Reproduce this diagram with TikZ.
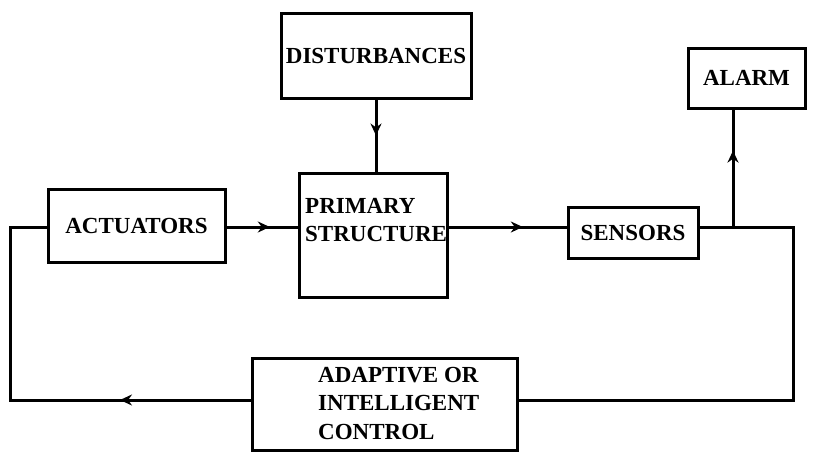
\documentclass[tikz,border=0pt]{standalone}
\usepackage{fontspec}
\setmainfont{Liberation Serif}
\usetikzlibrary{arrows.meta,decorations.markings}

\tikzset{
  blk/.style={draw, line width=3pt, inner sep=0pt,
    font=\fontsize{23}{28}\selectfont\bfseries},
  lbl/.style={inner sep=0pt, align=left,
    font=\fontsize{23}{28.5}\selectfont\bfseries},
  wire/.style={line width=3pt},
  midarrow/.style={postaction={decorate},
    decoration={markings,
      mark=at position #1 with {\arrow{Stealth[length=12pt,width=11pt]}}}},
}

\begin{document}
\begin{tikzpicture}[x=1pt, y=-1pt]
  \useasboundingbox (0,0) rectangle (814,453);

  % blocks
  \node[blk, minimum width=190pt, minimum height=85pt] (dist) at (376,55.5) {DISTURBANCES};
  \node[blk, minimum width=177pt, minimum height=73pt] (act) at (136.5,225.5) {ACTUATORS};
  \node[blk, minimum width=148pt, minimum height=124pt] (prim) at (373,235) {};
  \node[lbl, anchor=west] (primtxt) at (305,220) {PRIMARY\\STRUCTURE};
  \node[blk, minimum width=130pt, minimum height=51pt] (sens) at (633,232.5) {SENSORS};
  \node[blk, minimum width=117pt, minimum height=60pt] (alarm) at (746.5,78) {ALARM};
  \node[blk, minimum width=265pt, minimum height=92pt] (ctrl) at (384.5,404) {};
  \node[lbl, anchor=west] (ctrltxt) at (318,403) {ADAPTIVE OR\\INTELLIGENT\\CONTROL};

  % connectors
  \coordinate (jn) at (733,227);
  \coordinate (rc) at (793,227);
  \coordinate (lc) at (10,400);
  \draw[wire, midarrow=0.5] (dist.south) -- (dist.south |- prim.north);
  \draw[wire, midarrow=0.61] (act.east |- 0,227) -- (prim.west |- 0,227);
  \draw[wire, midarrow=0.63] (prim.east |- 0,227) -- (sens.west |- 0,227);
  \draw[wire] (sens.east |- rc) -- (rc) |- (ctrl.east |- 0,400);
  \draw[wire, midarrow=0.65] (jn) -- (jn |- alarm.south);
  \draw[wire, midarrow=0.29] (ctrl.west |- lc) -- (lc) |- (act.west |- 0,227);
\end{tikzpicture}
\end{document}
